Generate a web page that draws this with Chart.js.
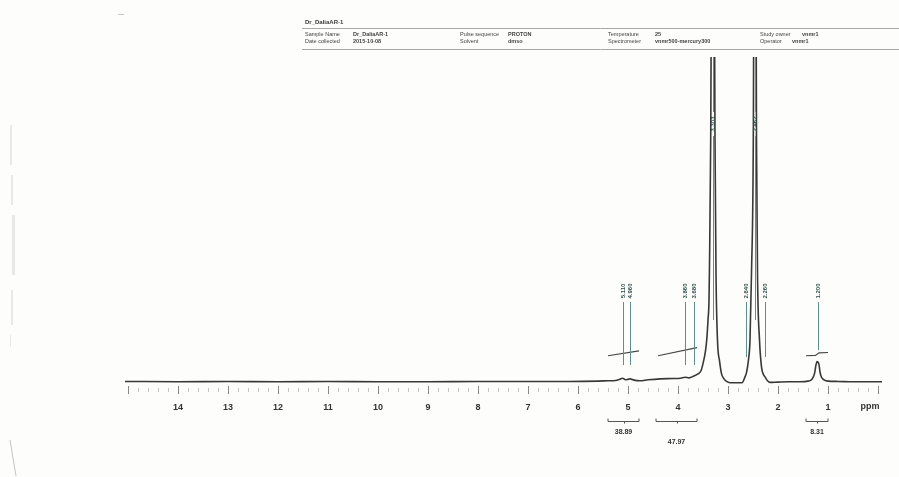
<!DOCTYPE html>
<html>
<head>
<meta charset="utf-8">
<script src="https://cdn.jsdelivr.net/npm/chart.js@4.4.1/dist/chart.umd.min.js"></script>
<style>
  html, body { margin: 0; padding: 0; background: #fdfdfb; }
  #wrap { width: 899px; height: 477px; position: relative; }
</style>
</head>
<body>
<div id="wrap"><canvas id="nmr" width="899" height="477"></canvas></div>
<script>
// 1H spectrum trace: chemical shift (ppm) and relative intensity
const shiftPpm = [15.06, 14, 13, 12, 11, 10, 9, 8, 7, 6.2, 5.6, 5.4, 5.25, 5.16, 5.11, 5.05, 4.99, 4.96, 4.88, 4.76, 4.6, 4.36, 4.1, 3.95, 3.86, 3.78, 3.68, 3.60, 3.54, 3.50, 3.45, 3.42, 3.40, 3.38, 3.37, 3.346, 3.303, 3.26, 3.24, 3.21, 3.17, 3.13, 3.08, 3.03, 2.96, 2.84, 2.72, 2.66, 2.63, 2.59, 2.56, 2.53, 2.494, 2.462, 2.43, 2.41, 2.37, 2.33, 2.29, 2.26, 2.21, 2.16, 2.0, 1.8, 1.56, 1.40, 1.32, 1.27, 1.24, 1.22, 1.20, 1.18, 1.16, 1.13, 1.08, 1.0, 0.8, 0.5, 0.2, -0.08];
const intensity = [0.1, 0, 0.1, 0, 0.1, 0, 0, 0.1, 0.1, 0.1, 0.2, 0.3, 0.4, 0.8, 1.1, 0.6, 0.8, 0.9, 0.5, 0.3, 0.6, 0.9, 1.0, 1.1, 1.4, 1.2, 1.8, 2.4, 3.4, 5.6, 9.5, 13.9, 19, 25, 36, 74.5, 220, 74.5, 33.5, 12.7, 6.5, 2.5, 0.9, 0.1, -0.3, -0.3, -0.3, 1.5, 2.8, 6.8, 12.9, 33.5, 74.5, 220, 74.5, 33.5, 12.9, 4.6, 2.2, 1.5, 0.3, -0.2, -0.1, 0, 0, 0.2, 0.8, 2.5, 5.2, 6.2, 6.0, 5.3, 3.0, 1.4, 0.6, 0.2, 0.1, 0, 0, 0];

// peak picks (ppm)
const peakPicks = [5.110, 4.960, 3.860, 3.680, 3.303, 2.640, 2.462, 2.260, 1.200];

// integral regions (ppm from, ppm to), integral trace levels and reported areas
const integralFrom = [5.40, 4.44, 1.44];
const integralTo = [4.78, 3.62, 1.00];
const integralTraces = [
  { ppm: [5.40, 4.78], level: [8.0, 9.5] },
  { ppm: [4.40, 3.62], level: [8.0, 10.5] },
  { ppm: [1.44, 1.25, 1.18, 1.00], level: [8.0, 8.1, 8.9, 9.0] }
];
const integralValues = ['38.89', '47.97', '8.31'];

// axis tick labels
const tickLabels = ['14', '13', '12', '11', '10', '9', '8', '7', '6', '5', '4', '3', '2', '1'];

// acquisition header
const headerTitle = 'Dr_DaliaAR-1';
const headerFields = [
  ['Sample Name', 'Dr_DaliaAR-1', 'Date collected', '2015-10-08'],
  ['Pulse sequence', 'PROTON', 'Solvent', 'dmso'],
  ['Temperature', '25', 'Spectrometer', 'vnmr500-mercury300'],
  ['Study owner', 'vnmr1', 'Operator', 'vnmr1']
];

const spectrum = shiftPpm.map((x, i) => ({ x, y: intensity[i] }));
const integralSets = integralTraces.map(t => ({
  data: t.ppm.map((x, i) => ({ x, y: t.level[i] })),
  borderColor: '#454545',
  borderWidth: 1.2,
  pointRadius: 0,
  tension: 0
}));

const FONT = '"Liberation Sans", Arial, sans-serif';

const decorations = {
  id: 'decorations',
  afterDatasetsDraw(chart) {
    const ctx = chart.ctx;
    const xs = chart.scales.x;
    const top = chart.chartArea.top;
    ctx.save();

    // peak pick markers with rotated shift labels
    peakPicks.forEach(v => {
      const px = Math.round(xs.getPixelForValue(v)) + 0.5;
      const idx = shiftPpm.indexOf(v);
      const big = idx >= 0 && intensity[idx] > 100;
      ctx.strokeStyle = '#5e8f8c';
      ctx.lineWidth = 1;
      let textY, lineBot;
      if (big) {
        textY = 124; lineBot = 320;
      } else {
        textY = 291;
        lineBot = v > 3 ? 365 : (v > 1.5 ? 357 : 350);
      }
      ctx.beginPath();
      if (big) {
        ctx.moveTo(px, top); ctx.lineTo(px, textY - 12);
        ctx.moveTo(px, textY + 12); ctx.lineTo(px, lineBot);
      } else {
        ctx.moveTo(px, 302); ctx.lineTo(px, lineBot);
      }
      ctx.stroke();
      ctx.save();
      ctx.translate(px, textY);
      ctx.rotate(-Math.PI / 2);
      ctx.fillStyle = '#2f4f4d';
      ctx.font = 'bold 6px ' + FONT;
      ctx.textAlign = 'center';
      ctx.textBaseline = 'middle';
      ctx.fillText(v.toFixed(3), 0, 0);
      ctx.restore();
    });

    // tick marks below the trace
    xs.ticks.forEach(t => {
      const px = Math.round(xs.getPixelForValue(t.value)) + 0.5;
      const major = Math.abs(t.value - Math.round(t.value)) < 1e-6;
      ctx.strokeStyle = major ? '#8a8a8a' : '#c4c4c4';
      ctx.lineWidth = 1;
      ctx.beginPath();
      ctx.moveTo(px, major ? 386 : 388);
      ctx.lineTo(px, major ? 394 : 392);
      ctx.stroke();
    });

    // axis unit
    ctx.fillStyle = '#333';
    ctx.font = 'bold 9px ' + FONT;
    ctx.textAlign = 'center';
    ctx.textBaseline = 'middle';
    ctx.fillText('ppm', xs.getPixelForValue(0.16), 407);

    // integral brackets and areas
    integralFrom.forEach((a, i) => {
      const x1 = xs.getPixelForValue(a);
      const x2 = xs.getPixelForValue(integralTo[i]);
      const y = 421.5;
      ctx.strokeStyle = '#555';
      ctx.lineWidth = 1;
      ctx.beginPath();
      ctx.moveTo(x1, y - 3); ctx.lineTo(x1, y); ctx.lineTo(x2, y); ctx.lineTo(x2, y - 3);
      const xm = Math.round((x1 + x2) / 2) + 0.5;
      ctx.moveTo(xm, y); ctx.lineTo(xm, y + 2);
      ctx.stroke();
      ctx.fillStyle = '#333';
      ctx.font = 'bold 7px ' + FONT;
      ctx.fillText(integralValues[i], (x1 + x2) / 2, i === 1 ? 442 : 432);
    });

    // acquisition header
    ctx.fillStyle = '#3a3a3a';
    ctx.textAlign = 'left';
    ctx.font = 'bold 6px ' + FONT;
    ctx.fillText(headerTitle, 305, 22);
    ctx.strokeStyle = '#a8a8a8';
    ctx.beginPath();
    ctx.moveTo(302, 28.5); ctx.lineTo(899, 28.5);
    ctx.moveTo(302, 49.5); ctx.lineTo(899, 49.5);
    ctx.stroke();
    const colX = [305, 460, 608, 760];
    const valX = [353, 508, 655, 802];
    headerFields.forEach((f, c) => {
      ctx.fillStyle = '#444';
      ctx.font = '5.5px ' + FONT;
      ctx.fillText(f[0], colX[c], 34);
      ctx.fillText(f[2], colX[c], 41);
      ctx.font = 'bold 5.5px ' + FONT;
      ctx.fillText(f[1], valX[c], 34);
      ctx.fillText(f[3], c === 3 ? 792 : valX[c], 41);
    });

    // paper edge marks
    ctx.fillStyle = 'rgba(150,140,140,0.18)';
    [[10, 125, 2, 40], [11, 175, 2, 30], [12, 215, 3, 60], [11, 290, 2, 35], [10, 335, 1, 12]].forEach(r => ctx.fillRect(r[0], r[1], r[2], r[3]));
    ctx.strokeStyle = 'rgba(110,110,110,0.4)';
    ctx.beginPath();
    ctx.moveTo(10, 440); ctx.lineTo(16, 476);
    ctx.moveTo(118, 14.5); ctx.lineTo(124, 14.5);
    ctx.stroke();
    ctx.restore();
  }
};

new Chart(document.getElementById('nmr'), {
  type: 'line',
  data: {
    datasets: [
      {
        data: spectrum,
        borderColor: '#383838',
        borderWidth: 1.6,
        pointRadius: 0,
        cubicInterpolationMode: 'monotone'
      },
      ...integralSets
    ]
  },
  options: {
    responsive: false,
    animation: false,
    events: [],
    layout: { padding: { left: 125, right: 17, top: 57, bottom: 0 } },
    plugins: { legend: { display: false }, tooltip: { enabled: false } },
    scales: {
      x: {
        type: 'linear',
        reverse: true,
        min: -0.08,
        max: 15.06,
        afterFit: s => { s.height = 92; },
        border: { display: false },
        grid: { display: false, drawTicks: false },
        ticks: {
          stepSize: 0.2,
          includeBounds: false,
          maxTicksLimit: 1000,
          autoSkip: false,
          maxRotation: 0,
          padding: 17,
          color: '#333',
          font: { size: 9, weight: 'bold', family: FONT },
          callback: v => {
            const r = Math.round(v);
            return Math.abs(v - r) < 1e-6 && r >= 1 && r <= 14 ? tickLabels[14 - r] : '';
          }
        }
      },
      y: { display: false, min: -1, max: 100 }
    }
  },
  plugins: [decorations]
});
</script>
</body>
</html>
